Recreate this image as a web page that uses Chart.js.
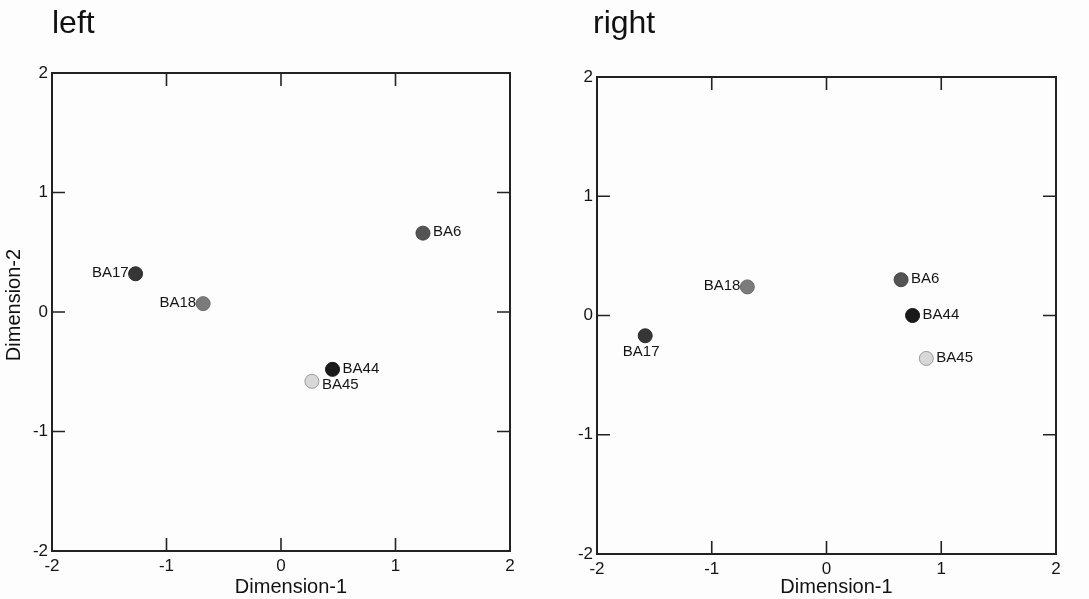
<!DOCTYPE html>
<html>
<head>
<meta charset="utf-8">
<script src="https://cdn.jsdelivr.net/npm/chart.js@4/dist/chart.umd.min.js"></script>
<style>
  body { margin: 0; background: #fdfdfd; }
  .panel { position: absolute; top: 0; height: 599px; }
  #leftPanel { left: 0; width: 545px; }
  #rightPanel { left: 545px; width: 544px; }
</style>
</head>
<body>
<div class="panel" id="leftPanel"><canvas id="leftChart" width="545" height="599"></canvas></div>
<div class="panel" id="rightPanel"><canvas id="rightChart" width="544" height="599"></canvas></div>
<script>
// Datos
const regions = ["BA6", "BA17", "BA18", "BA44", "BA45"];
const leftDim1 = [1.24, -1.27, -0.68, 0.45, 0.27];
const leftDim2 = [0.66, 0.32, 0.07, -0.48, -0.58];
const rightDim1 = [0.65, -1.58, -0.69, 0.75, 0.87];
const rightDim2 = [0.30, -0.17, 0.24, 0.00, -0.36];
const axisTicks = [-2, -1, 0, 1, 2];

// Estilos
const FONT = "'Liberation Sans', Arial, sans-serif";
const INK = "#151515";
const fillColors = { BA6: "#545454", BA17: "#363636", BA18: "#7b7b7b", BA44: "#1a1a1a", BA45: "#d8d8d8" };
const edgeColors = { BA6: "#444", BA17: "#282828", BA18: "#686868", BA44: "#101010", BA45: "#999" };
// donde va cada etiqueta respecto a su punto
const leftPlacement = { BA6: "right", BA17: "left", BA18: "left", BA44: "right", BA45: "rightLow" };
const rightPlacement = { BA6: "right", BA17: "below", BA18: "left", BA44: "right", BA45: "right" };

// Plugin: marco, ticks hacia dentro, títulos y etiquetas de puntos
const decorPlugin = {
    id: "decor",
    afterDraw(chart, args, opts) {
        const ctx = chart.ctx;
        const a = chart.chartArea;
        const xs = chart.scales.x, ys = chart.scales.y;
        ctx.save();

        // marco
        ctx.strokeStyle = "#222";
        ctx.lineWidth = 2;
        ctx.strokeRect(a.left, a.top, a.right - a.left, a.bottom - a.top);

        // ticks interiores en los cuatro lados
        ctx.lineWidth = 1.6;
        const tl = 13;
        ctx.beginPath();
        xs.ticks.forEach((t, i) => {
            if (t.value === xs.min || t.value === xs.max) return;
            const px = xs.getPixelForTick(i);
            ctx.moveTo(px, a.bottom); ctx.lineTo(px, a.bottom - tl);
            ctx.moveTo(px, a.top); ctx.lineTo(px, a.top + tl);
        });
        ys.ticks.forEach((t, i) => {
            if (t.value === ys.min || t.value === ys.max) return;
            const py = ys.getPixelForTick(i);
            ctx.moveTo(a.left, py); ctx.lineTo(a.left + tl, py);
            ctx.moveTo(a.right, py); ctx.lineTo(a.right - tl, py);
        });
        ctx.stroke();

        // título del panel
        ctx.fillStyle = "#111";
        ctx.font = "32px " + FONT;
        ctx.textAlign = "left";
        ctx.textBaseline = "alphabetic";
        ctx.fillText(opts.panelTitle, a.left + opts.titleShift, 33);

        // títulos de ejes
        ctx.font = "20px " + FONT;
        ctx.textAlign = "center";
        ctx.fillText("Dimension-1", (a.left + a.right) / 2 + 10, 593);
        if (opts.showYTitle) {
            ctx.save();
            ctx.translate(20, (a.top + a.bottom) / 2 - 7);
            ctx.rotate(-Math.PI / 2);
            ctx.fillText("Dimension-2", 0, 0);
            ctx.restore();
        }

        // etiquetas de los puntos
        ctx.font = "15px " + FONT;
        ctx.fillStyle = INK;
        ctx.textBaseline = "middle";
        const meta = chart.getDatasetMeta(0);
        meta.data.forEach((pt, i) => {
            const name = regions[i];
            const where = opts.placement[name];
            if (where === "left") {
                ctx.textAlign = "right";
                ctx.fillText(name, pt.x - 7, pt.y - 1);
            } else if (where === "below") {
                ctx.textAlign = "center";
                ctx.fillText(name, pt.x - 4, pt.y + 16);
            } else if (where === "rightLow") {
                ctx.textAlign = "left";
                ctx.fillText(name, pt.x + 10, pt.y + 4);
            } else {
                ctx.textAlign = "left";
                ctx.fillText(name, pt.x + 10, pt.y - 1);
            }
        });
        ctx.restore();
    }
};

function makePanel(canvasId, dim1, dim2, cfg) {
    const points = dim1.map((x, i) => ({ x: x, y: dim2[i] }));
    const ctx = document.getElementById(canvasId).getContext("2d");
    return new Chart(ctx, {
        type: "scatter",
        data: {
            datasets: [{
                data: points,
                pointRadius: 7,
                pointBorderWidth: 1,
                backgroundColor: regions.map(r => fillColors[r]),
                borderColor: regions.map(r => edgeColors[r])
            }]
        },
        options: {
            responsive: false,
            animation: false,
            layout: { padding: { top: cfg.top, right: cfg.right, left: 0, bottom: 0 } },
            plugins: {
                legend: { display: false },
                tooltip: { enabled: false },
                decor: { panelTitle: cfg.title, titleShift: cfg.titleShift, showYTitle: cfg.showYTitle, placement: cfg.placement }
            },
            scales: {
                x: {
                    type: "linear",
                    min: axisTicks[0], max: axisTicks[axisTicks.length - 1],
                    afterBuildTicks: s => { s.ticks = axisTicks.map(v => ({ value: v })); },
                    afterFit: s => { s.height = 599 - cfg.bottom; },
                    grid: { display: false, drawTicks: false },
                    border: { display: false },
                    ticks: { padding: 5, color: INK, font: { family: FONT, size: 17 }, maxRotation: 0 }
                },
                y: {
                    type: "linear",
                    min: axisTicks[0], max: axisTicks[axisTicks.length - 1],
                    afterBuildTicks: s => { s.ticks = axisTicks.map(v => ({ value: v })); },
                    afterFit: s => { s.width = cfg.left; },
                    grid: { display: false, drawTicks: false },
                    border: { display: false },
                    ticks: { padding: 4, color: INK, font: { family: FONT, size: 17 } }
                }
            }
        },
        plugins: [decorPlugin]
    });
}

makePanel("leftChart", leftDim1, leftDim2, {
    title: "left", titleShift: 0, showYTitle: true, placement: leftPlacement,
    left: 52, top: 73, right: 35, bottom: 551
});
makePanel("rightChart", rightDim1, rightDim2, {
    title: "right", titleShift: -4, showYTitle: false, placement: rightPlacement,
    left: 52, top: 77, right: 33, bottom: 554
});
</script>
</body>
</html>
